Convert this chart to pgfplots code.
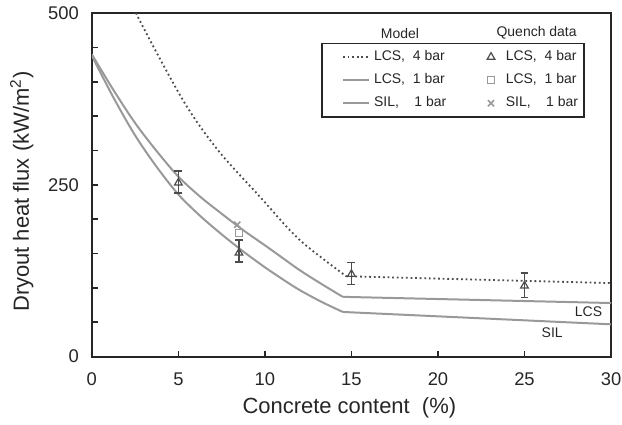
\documentclass[border=0pt]{standalone}
\usepackage{fontspec}
\setmainfont{Liberation Sans}
\usepackage{pgfplots}
\pgfplotsset{compat=1.18}

\definecolor{txt}{gray}{0.15}
\definecolor{dark}{gray}{0.30}
\definecolor{light}{gray}{0.60}

\pgfplotsset{
  markleg/.style={legend image code/.code={
    \path (-4pt,0pt) (5pt,0pt);
    \draw[##1] plot coordinates {(0pt,0pt)};}},
}

\begin{document}
\begin{tikzpicture}
\begin{axis}[
  name=ax,
  scale only axis,
  width=260pt, height=172pt,
  xmin=0, xmax=30, ymin=0, ymax=500,
  xtick={0,5,...,30},
  ytick={0,250,500},
  minor ytick={50,100,...,450},
  tick align=inside,
  tick pos=left,
  major tick length=3pt,
  minor tick length=3pt,
  axis line style={line width=1pt, black!85},
  tick style={black!85, line width=0.8pt},
  minor tick style={black!85, line width=0.8pt},
  tick label style={font=\fontsize{9.2}{10}\selectfont, text=txt},
  xticklabel style={inner sep=0pt, yshift=-8pt},
  yticklabel style={xshift=-3pt},
  /pgf/number format/assume math mode=true,
  xlabel={Concrete content\ \ (\%)},
  ylabel={Dryout heat flux (kW/m\textsuperscript{2})},
  label style={font=\fontsize{11}{12}\selectfont, text=txt},
  xlabel style={at={(axis description cs:0.496,-0.148)}, anchor=center},
  ylabel style={at={(axis description cs:-0.135,0.48)}, anchor=center},
  clip=true,
  legend columns=2,
  legend cell align=left,
  legend style={
    at={(axis description cs:0.442,0.914)}, anchor=north west,
    draw=black!85, line width=0.8pt,
    font=\fontsize{7}{8}\selectfont, text=txt,
    row sep=1pt, inner xsep=1pt, inner ysep=1.5pt,
    /tikz/every even column/.append style={column sep=16pt},
  },
  legend image code/.code={
    \path (-9pt,0pt);
    \draw[#1] (0pt,0pt) -- (13pt,0pt);
  },
]

% legend entries (model | quench data)
\addlegendimage{dark, line width=0.9pt, dash pattern=on 0.9pt off 1.4pt}
\addlegendentry{LCS,\ \ 4 bar}
\addlegendimage{only marks, mark=triangle, mark size=2.2pt, dark, mark options={line width=0.6pt}, markleg}
\addlegendentry{LCS,\ \ 4 bar}
\addlegendimage{light, line width=1pt}
\addlegendentry{LCS,\ \ 1 bar}
\addlegendimage{only marks, mark=square, mark size=1.8pt, light, mark options={line width=0.6pt}, markleg}
\addlegendentry{LCS,\ \ 1 bar}
\addlegendimage{light, line width=1pt}
\addlegendentry{SIL,\ \ \ \ 1 bar}
\addlegendimage{only marks, mark=x, mark size=2.2pt, light, mark options={line width=0.8pt}, markleg}
\addlegendentry{SIL,\ \ \ \ 1 bar}

% model: LCS 4 bar (dotted)
\addplot[forget plot, dark, line width=0.9pt, dash pattern=on 0.9pt off 1.4pt, smooth] coordinates {
  (0,640) (2.37,509) (5.25,374) (7.27,301) (9.7,233) (12,170) (14.7,117)};
\addplot[forget plot, dark, line width=0.9pt, dash pattern=on 0.9pt off 1.4pt] coordinates {
  (14.7,117) (30,107)};

% model: LCS 1 bar
\addplot[forget plot, light, line width=1pt, smooth] coordinates {
  (0,440) (1.25,388) (2.5,340) (3.75,299) (5,262) (6.25,233) (7.5,208)
  (8.75,184) (10,162) (11,144) (12,126) (13.25,106) (14.5,87)};
\addplot[forget plot, light, line width=1pt] coordinates {
  (14.5,87) (30,78)};

% model: SIL 1 bar
\addplot[forget plot, light, line width=1pt, smooth] coordinates {
  (0,438) (1.25,377) (2.5,322) (3.75,276) (5,236) (6.25,205) (7.5,178)
  (8.75,153) (10,130) (11,113) (12,97) (13.25,80) (14.5,65)};
\addplot[forget plot, light, line width=1pt] coordinates {
  (14.5,65) (30,47)};

% quench data
\addplot[forget plot, only marks, mark=x, mark size=2.2pt, light, mark options={line width=0.8pt}] coordinates {
  (8.4,192)};
\addplot[forget plot, only marks, mark=square, mark size=1.8pt, light, mark options={line width=0.6pt}] coordinates {
  (8.5,180)};
\addplot[forget plot, only marks, mark=triangle, mark size=2.2pt, dark, mark options={line width=0.6pt},
  error bars/.cd, y dir=both, y explicit,
  error bar style={dark, line width=0.8pt},
  error mark options={rotate=90, mark size=2pt, dark, line width=0.8pt}] coordinates {
  (5,253) +=(0,17) -=(0,15)
  (8.5,151) +=(0,19) -=(0,13)
  (15,120) +=(0,17) -=(0,15)
  (25,103) +=(0,19) -=(0,17)};

% curve labels and legend headers
\node[font=\fontsize{7}{8}\selectfont, text=txt] at (axis cs:28.7,65) {LCS};
\node[font=\fontsize{7}{8}\selectfont, text=txt] at (axis cs:26.6,35) {SIL};
\node[font=\fontsize{7}{8}\selectfont, text=txt] at (axis cs:17.8,471) {Model};
\node[font=\fontsize{7}{8}\selectfont, text=txt] at (axis cs:25.7,471) {Quench data};
\end{axis}
\path (ax.south west) ++(-46pt,-33.5pt);
\path (ax.north east) ++(5.5pt,6.5pt);
\end{tikzpicture}
\end{document}
